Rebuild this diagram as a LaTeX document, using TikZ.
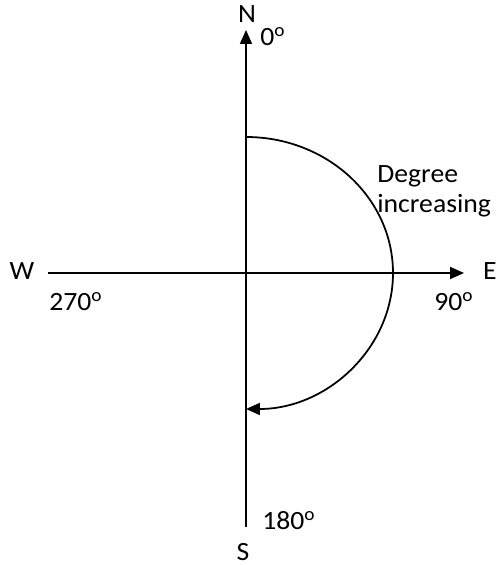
\documentclass[tikz,border=0pt]{standalone}
\usepackage{fontspec}
\setmainfont{Carlito}
\usetikzlibrary{arrows.meta}

\tikzset{
  axis/.style={line width=1pt, -{Triangle[length=0.28cm, width=0.24cm]}},
  lbl/.style={font=\fontsize{15}{17}\selectfont, inner sep=0pt, xscale=1.05}
}

\begin{document}
\begin{tikzpicture}[x=0.02cm, y=0.02cm]
  \useasboundingbox (0,0) rectangle (498,565);

  % axes
  \coordinate (o)    at (246,292);
  \coordinate (ntip) at (246,535);
  \coordinate (send) at (246,38);
  \coordinate (wend) at (48,292);
  \coordinate (etip) at (464,292);
  \coordinate (arcstart) at (246,428);

  \draw[axis] (send) -- (ntip);
  \draw[axis] (wend) -- (etip);

  % degree arc
  \draw[axis] (arcstart) arc[start angle=90, end angle=-90, x radius=147, y radius=136];

  % labels
  \node[lbl] (n)    at (247,551) {N};
  \node[lbl] (zero) at (273,528) {0\textsuperscript{o}};
  \node[lbl] (w)    at (22,294) {W};
  \node[lbl] (twoseventy) at (76,263) {270\textsuperscript{o}};
  \node[lbl, anchor=east] (e) at (497,294) {E};
  \node[lbl] (ninety) at (454,263) {90\textsuperscript{o}};
  \node[lbl, anchor=base west] (deg) at (377,382) {Degree};
  \node[lbl, anchor=base west] (inc) at (377,352) {increasing};
  \node[lbl, anchor=west] (oneeighty) at (262,44) {180\textsuperscript{o}};
  \node[lbl] (s) at (243,13) {S};
\end{tikzpicture}
\end{document}
